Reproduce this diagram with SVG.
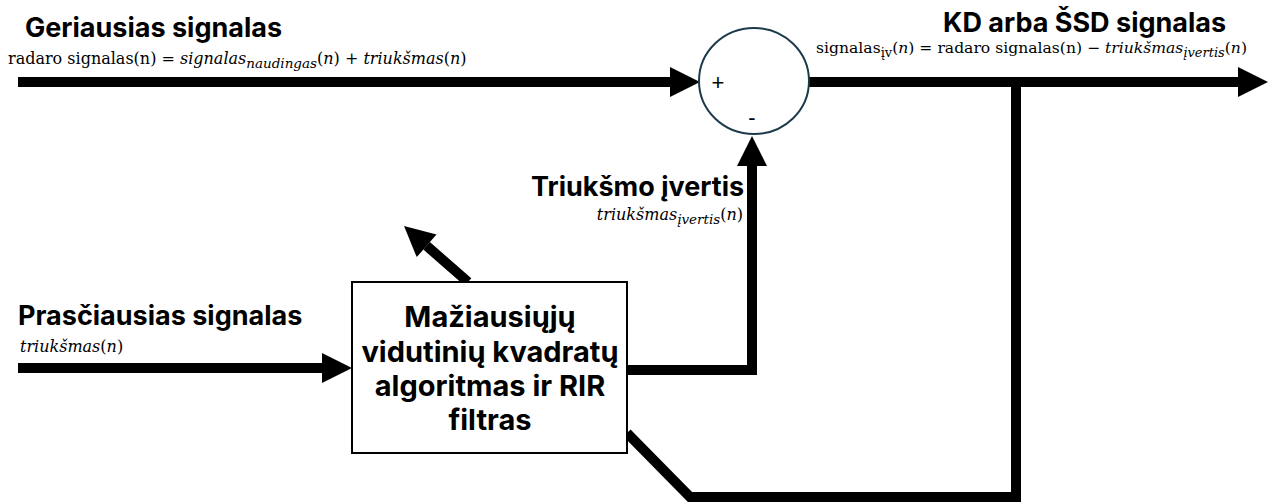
<svg xmlns="http://www.w3.org/2000/svg" width="1273" height="504" viewBox="0 0 1273 504">
<style>
.title{font-family:Inter,"Open Sans","Liberation Sans",sans-serif;font-weight:700;font-size:27px;fill:#000}
.box{font-family:Inter,"Open Sans","Liberation Sans",sans-serif;font-weight:700;font-size:29px;fill:#000;text-anchor:middle}
.math{font-family:"DejaVu Serif","Liberation Serif",serif;font-size:16px;fill:#000}
.it{font-style:italic}
.sub{font-size:13.5px}
.wire{fill:none;stroke:#000;stroke-width:10;stroke-linejoin:miter}
.sign{font-family:"Liberation Sans",Arial,sans-serif;font-size:22px;fill:#000;text-anchor:middle}
</style>
<defs>
<marker id="ah" markerUnits="userSpaceOnUse" markerWidth="30" markerHeight="30" refX="0" refY="15" orient="auto" overflow="visible">
<path d="M0,0 L30,15 L0,30 z" fill="#000"/>
</marker>
</defs>
<g id="connectors">
<path class="wire" d="M18 82 H670" marker-end="url(#ah)"/>
<path class="wire" d="M808 82 H1238" marker-end="url(#ah)"/>
<path class="wire" d="M1016 82 V497 H690 L627 433"/>
<path class="wire" d="M18 368 H322" marker-end="url(#ah)"/>
<path class="wire" d="M627 370 H752 V166" marker-end="url(#ah)"/>
<path class="wire" d="M468 282 L426.6 245.8" marker-end="url(#ah)"/>
</g>
<g id="sum">
<ellipse cx="754" cy="81" rx="55" ry="53" fill="#fff" stroke="#1c3a4a" stroke-width="2"/>
<text class="sign" x="718" y="90">+</text>
<text class="sign" x="752" y="125">-</text>
</g>
<g id="lms">
<rect x="352" y="282" width="275" height="171" fill="#fff" stroke="#000" stroke-width="2"/>
<text class="box" x="490" y="327">Mažiausiųjų</text>
<text class="box" x="490" y="362">vidutinių kvadratų</text>
<text class="box" x="490" y="396">algoritmas ir RIR</text>
<text class="box" x="490" y="430">filtras</text>
</g>
<g id="labels">
<text class="title" x="25" y="37">Geriausias signalas</text>
<text class="math" x="8" y="64">radaro signalas(n) = <tspan class="it">signalas</tspan><tspan class="it sub" dy="4">naudingas</tspan><tspan dy="-4">(</tspan><tspan class="it">n</tspan>) + <tspan class="it">triukšmas</tspan>(<tspan class="it">n</tspan>)</text>
<text class="title" x="943" y="32">KD arba ŠSD signalas</text>
<text class="math" x="1247" y="53" text-anchor="end" style="font-size:15.6px">signalas<tspan class="sub" dy="4" style="font-size:13px">įv</tspan><tspan dy="-4">(</tspan><tspan class="it">n</tspan>) = radaro signalas(n) − <tspan class="it">triukšmas</tspan><tspan class="it sub" dy="4" style="font-size:13px">įvertis</tspan><tspan dy="-4">(</tspan><tspan class="it">n</tspan>)</text>
<text class="title" x="531" y="196">Triukšmo įvertis</text>
<text class="math" x="743" y="220" text-anchor="end"><tspan class="it">triukšmas</tspan><tspan class="it sub" dy="4">įvertis</tspan><tspan dy="-4">(</tspan><tspan class="it">n</tspan>)</text>
<text class="title" x="18" y="325">Prasčiausias signalas</text>
<text class="math" x="20" y="352"><tspan class="it">triukšmas</tspan>(<tspan class="it">n</tspan>)</text>
</g>
</svg>
